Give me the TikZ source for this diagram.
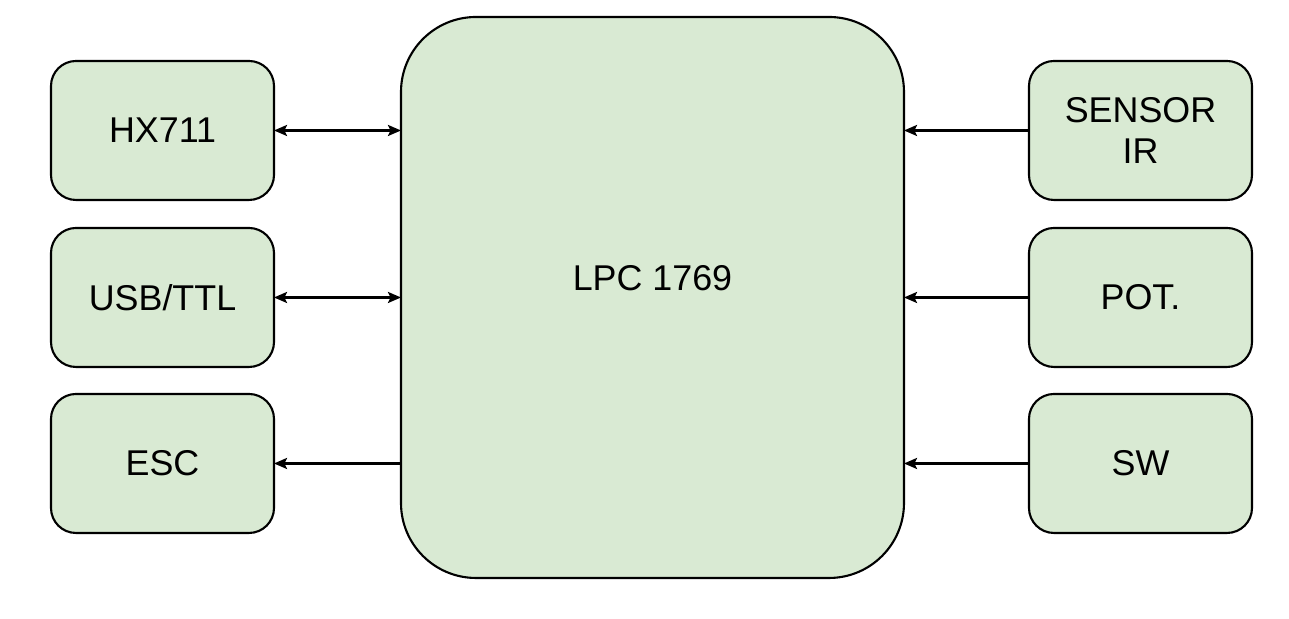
\documentclass[tikz,border=0pt]{standalone}
\usepackage{fontspec}
\setmainfont{Liberation Sans}
\usetikzlibrary{arrows.meta}
\definecolor{boxgreen}{HTML}{D9EAD3}
\tikzset{
  block/.style={draw, line width=0.6pt, fill=boxgreen, rounded corners=0.25cm,
    minimum width=2.23cm, minimum height=1.39cm, inner sep=0pt, outer sep=0pt,
    align=center, font=\fontsize{10.2}{11.4}\selectfont},
  mcu/.style={block, rounded corners=0.75cm, minimum width=5.03cm, minimum height=5.61cm},
  link/.style={line width=0.65pt, >={Stealth[length=1.3mm, width=1.1mm, inset=0.25mm]}}
}
\begin{document}
\begin{tikzpicture}
      \useasboundingbox (0,0) rectangle (12.89,6.19);
      \draw
        (6.525,3.215) node[mcu] (lpc){\raisebox{0.07cm}[0pt][0pt]{LPC 1769}}
        (1.625,4.885) node[block] (hx){HX711}
        (1.625,3.215) node[block] (usb){USB/TTL}
        (1.625,1.555) node[block] (esc){ESC}
        (11.405,4.885) node[block] (ir){SENSOR\\IR}
        (11.405,3.215) node[block] (pot){POT.}
        (11.405,1.555) node[block] (sw){SW};
      \begin{scope}[link]
        \draw[<->] (hx.east) to (hx.east -| lpc.west);
        \draw[<->] (usb.east) to (usb.east -| lpc.west);
        \draw[->] (esc.east -| lpc.west) to (esc.east);
        \draw[->] (ir.west) to (ir.west -| lpc.east);
        \draw[->] (pot.west) to (pot.west -| lpc.east);
        \draw[->] (sw.west) to (sw.west -| lpc.east);
      \end{scope}
    \end{tikzpicture}
\end{document}
